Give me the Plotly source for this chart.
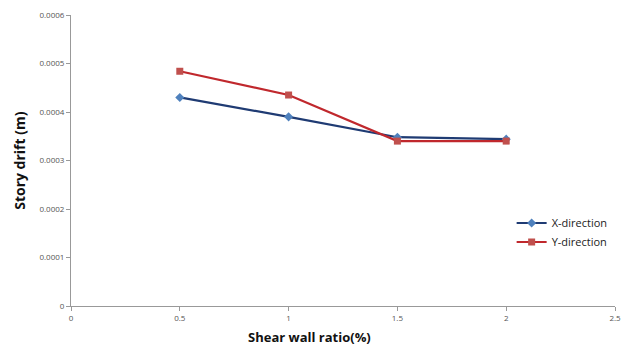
import plotly.graph_objects as go

ratio = [0.5, 1, 1.5, 2]
x_dir = [0.00043, 0.00039, 0.000348, 0.000344]
y_dir = [0.000484, 0.000435, 0.00034, 0.00034]

x_ticks = [0, 0.5, 1, 1.5, 2, 2.5]
x_tick_labels = ["0", "0.5", "1", "1.5", "2", "2.5"]
y_ticks = [0, 0.0001, 0.0002, 0.0003, 0.0004, 0.0005, 0.0006]
y_tick_labels = ["0", "0.0001", "0.0002", "0.0003", "0.0004", "0.0005", "0.0006"]

fig = go.Figure()
fig.add_trace(go.Scatter(
    x=ratio, y=x_dir, mode="lines+markers", name="X-direction",
    line=dict(color="#1F3B73", width=2.2),
    marker=dict(symbol="diamond", size=7, color="#4F81BD"),
))
fig.add_trace(go.Scatter(
    x=ratio, y=y_dir, mode="lines+markers", name="Y-direction",
    line=dict(color="#C0282D", width=2.2),
    marker=dict(symbol="square", size=7, color="#C0504D"),
))

axis_font = dict(family="Open Sans, Liberation Sans, sans-serif", size=8, color="#555555")
fig.update_layout(
    width=630, height=348,
    margin=dict(l=71, r=9, t=15, b=42),
    paper_bgcolor="white", plot_bgcolor="white",
    showlegend=True,
    legend=dict(x=0.81, y=0.335, xanchor="left", yanchor="top",
                font=dict(family="Open Sans, Liberation Sans, sans-serif", size=11, color="#222222"),
                bgcolor="rgba(0,0,0,0)", tracegroupgap=4, itemwidth=30),
    xaxis=dict(range=[0, 2.5], tickvals=x_ticks, ticktext=x_tick_labels,
               showgrid=False, zeroline=False, showline=True, linecolor="#999999", linewidth=1,
               ticks="outside", ticklen=4, tickcolor="#999999", tickfont=axis_font,
               ticklabeloverflow="allow"),
    yaxis=dict(range=[0, 0.0006], tickvals=y_ticks, ticktext=y_tick_labels,
               showgrid=False, zeroline=False, showline=True, linecolor="#999999", linewidth=1,
               ticks="outside", ticklen=4, tickcolor="#999999", tickfont=axis_font),
    annotations=[
        dict(text="<b>Story drift (m)</b>", xref="paper", yref="paper",
             x=-0.095, y=0.5, xanchor="center", yanchor="middle", textangle=-90,
             showarrow=False, font=dict(family="Open Sans, Liberation Sans, sans-serif", size=14, color="#111111")),
        dict(text="<b>Shear wall ratio(%)</b>", xref="paper", yref="paper",
             x=0.438, y=-0.108, xanchor="center", yanchor="middle",
             showarrow=False, font=dict(family="Open Sans, Liberation Sans, sans-serif", size=13, color="#111111")),
    ],
)
fig.write_html("out.html")
